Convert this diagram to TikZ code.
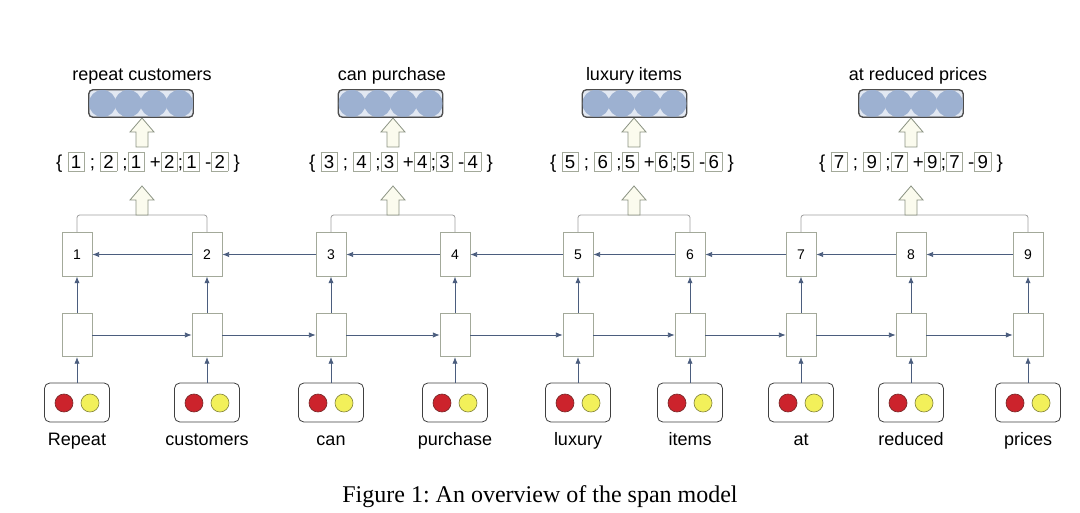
\documentclass[tikz,border=0pt]{standalone}
\usepackage{fontspec}
\setmainfont{Liberation Sans}
\newfontfamily\capfont{Liberation Serif}
\definecolor{arrcol}{HTML}{4B5D7E}
\definecolor{boxcol}{HTML}{A3A99A}
\definecolor{brkcol}{HTML}{A0A0A0}
\definecolor{barfill}{HTML}{FBFBEE}
\definecolor{barline}{HTML}{8A9282}
\definecolor{circfill}{HTML}{9DB1D1}
\definecolor{rectfill}{HTML}{E2E8F2}
\definecolor{redc}{HTML}{CC232C}
\definecolor{redline}{HTML}{7A2A2A}
\definecolor{yelc}{HTML}{F2F05A}
\definecolor{yelline}{HTML}{8A8A40}
\usetikzlibrary{arrows.meta}
\newcommand{\spb}[1]{{\setlength{\fboxsep}{2pt}\setlength{\fboxrule}{0.5pt}\fcolorbox{boxcol}{white}{\vphantom{8}#1}}}
\begin{document}
\frenchspacing
\begin{tikzpicture}[x=0.75pt,y=-0.75pt,
  hbox/.style={draw=boxcol, fill=white, line width=0.6pt, minimum width=22.5pt, minimum height=32.5pt, inner sep=0pt, font=\fontsize{10.5pt}{12pt}\selectfont},
  inbox/.style={draw=black!75, fill=white, line width=0.6pt, rounded corners=4pt, minimum width=48.75pt, minimum height=29.25pt, inner sep=0pt},
  redball/.style={circle, draw=redline, fill=redc, line width=0.5pt, minimum size=13.5pt, inner sep=0pt},
  yelball/.style={circle, draw=yelline, fill=yelc, line width=0.5pt, minimum size=13.5pt, inner sep=0pt},
  word/.style={font=\fontsize{13.5pt}{15pt}\selectfont, inner sep=0pt, anchor=base},
  arr/.style={draw=arrcol, line width=0.6pt, -{Latex[length=5pt,width=4pt]}},
  brk/.style={draw=brkcol, line width=0.6pt, rounded corners=2pt},
  spantext/.style={font=\fontsize{14pt}{16pt}\selectfont, inner sep=0pt},
  spanlabel/.style={font=\fontsize{13.5pt}{15pt}\selectfont, inner sep=0pt, anchor=base},
  repbox/.style={draw=black!70, fill=rectfill, line width=0.6pt, rounded corners=3pt, minimum width=78pt, minimum height=20.25pt, inner sep=0pt},
  uparrow/.pic={\draw[barline, fill=barfill, line width=0.6pt] (-6,0) -- (-6,-15) -- (-12,-15) -- (0,-29) -- (12,-15) -- (6,-15) -- (6,0) -- cycle;}
]
\useasboundingbox (0,0) rectangle (1080,513);
% columns
\foreach \i/\x/\w in {1/77/Repeat,2/207/customers,3/331/can,4/455/purchase,5/578/luxury,6/690/items,7/801/at,8/911/reduced,9/1028/prices}{
  \node[hbox] (t\i) at (\x,254.5) {\i};
  \node[hbox] (m\i) at (\x,335) {};
  \node[inbox] (in\i) at (\x,402.5) {};
  \node[redball] (r\i) at (\x-13,403) {};
  \node[yelball] (y\i) at (\x+13,403) {};
  \node[word] (w\i) at (\x,445) {\w};
  \draw[arr] (in\i) -- (m\i);
  \draw[arr] (m\i) -- (t\i);
}
\foreach \i/\j in {1/2,2/3,3/4,4/5,5/6,6/7,7/8,8/9}{
  \draw[arr] (t\j) -- (t\i);
  \draw[arr] (m\i) -- (m\j);
}
% brackets
\coordinate (j1) at (142,215);
\coordinate (j2) at (393,215);
\coordinate (j3) at (634,215);
\coordinate (j4) at (911,215);
\draw[brk] (t1.north) |- (j1) -| (t2.north);
\draw[brk] (t3.north) |- (j2) -| (t4.north);
\draw[brk] (t5.north) |- (j3) -| (t6.north);
\draw[brk] (t7.north) |- (j4) -| (t9.north);
% span reps
\node[spantext] (s1) at (148,162) {\{ \spb{1} ; \spb{2} ;\spb{1} +\spb{2};\spb{1} -\spb{2} \}};
\node[spantext] (s2) at (401,162) {\{ \spb{3} ; \spb{4} ;\spb{3} +\spb{4};\spb{3} -\spb{4} \}};
\node[spantext] (s3) at (642,162) {\{ \spb{5} ; \spb{6} ;\spb{5} +\spb{6};\spb{5} -\spb{6} \}};
\node[spantext] (s4) at (911,162) {\{ \spb{7} ; \spb{9} ;\spb{7} +\spb{9};\spb{7} -\spb{9} \}};
% block arrows
\foreach \x in {142,393,634,911}{
  \pic at (\x,215) {uparrow};
  \pic at (\x,147) {uparrow};
}
% representation boxes
\foreach \k/\x in {1/141,2/390.5,3/634.5,4/911}{
  \node[repbox] (p\k) at (\x,103.5) {};
  \begin{scope}
    \clip[rounded corners=3pt] (p\k.south west) rectangle (p\k.north east);
    \foreach \d in {-38.5,-12.8,12.8,38.5}
      \fill[circfill] (\x+\d,103.5) circle (13.6);
  \end{scope}
  \draw[black!70, line width=0.6pt, rounded corners=3pt] (p\k.south west) rectangle (p\k.north east);
}
\node[spanlabel] (l1) at (142,81) {repeat customers};
\node[spanlabel] (l2) at (392,81) {can purchase};
\node[spanlabel] (l3) at (634,81) {luxury items};
\node[spanlabel] (l4) at (918,81) {at reduced prices};
% caption
\node[font=\capfont\fontsize{18pt}{21pt}\selectfont, inner sep=0pt, anchor=base] (cap) at (540,502) {Figure 1: An overview of the span model};
\end{tikzpicture}
\end{document}
